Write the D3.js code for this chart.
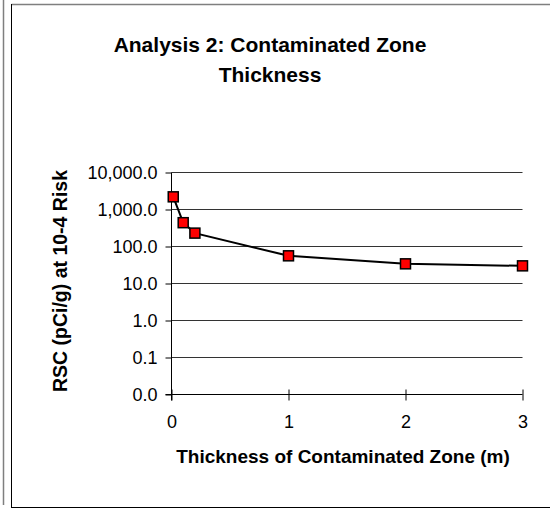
<!DOCTYPE html>
<html>
<head>
<meta charset="utf-8">
<script src="https://cdn.jsdelivr.net/npm/d3@7"></script>
<style>
  html, body { margin: 0; padding: 0; background: #fff; }
  svg { display: block; }
  text { font-family: "Liberation Sans", Arial, sans-serif; fill: #000; }
</style>
</head>
<body>
<svg id="chart" width="550" height="508"></svg>
<script>
// ---- data ----
const thickness = [0.015, 0.1, 0.2, 1, 2, 3];          // m
const rsc = [2200, 440, 230, 56, 34, 30];              // pCi/g
const xTicks = [0, 1, 2, 3];
const yTicks = [0.01, 0.1, 1, 10, 100, 1000, 10000];
const titleLines = ["Analysis 2: Contaminated Zone", "Thickness"];
const xTitle = "Thickness of Contaminated Zone (m)";
const yTitle = "RSC (pCi/g) at 10-4 Risk";

const svg = d3.select("#chart");

// frame
svg.append("line").attr("x1", 3.5).attr("x2", 3.5).attr("y1", 0).attr("y2", 505)
  .attr("stroke", "#7f7f7f").attr("stroke-width", 1.5);
svg.append("line").attr("x1", 11.5).attr("x2", 550).attr("y1", 4.5).attr("y2", 4.5)
  .attr("stroke", "#7f7f7f").attr("stroke-width", 1.5);
svg.append("line").attr("x1", 11.5).attr("x2", 11.5).attr("y1", 4).attr("y2", 508)
  .attr("stroke", "#000").attr("stroke-width", 1);
svg.append("line").attr("x1", 11).attr("x2", 550).attr("y1", 507.5).attr("y2", 507.5)
  .attr("stroke", "#000").attr("stroke-width", 1);

const x = d3.scaleLinear().domain([0, 3]).range([171.5, 522.5]);
const y = d3.scaleLog().domain([0.01, 10000]).range([394.5, 172.5]);
const fmt = d3.format(",.1f");

// gridlines
svg.append("g").selectAll("line").data(yTicks.filter(d => d > 0.01)).join("line")
  .attr("x1", x(0)).attr("x2", x(3))
  .attr("y1", d => y(d)).attr("y2", d => y(d))
  .attr("stroke", "#333").attr("stroke-width", 1.2);

// y axis
const yAxis = d3.axisLeft(y).tickValues(yTicks).tickFormat(fmt).tickSize(6).tickPadding(8);
const gy = svg.append("g").attr("transform", `translate(${x(0)},0)`).call(yAxis);
gy.select(".domain").remove();
gy.append("line").attr("x1", 0).attr("x2", 0).attr("y1", y(10000)).attr("y2", y(0.01) + 6)
  .attr("stroke", "#000");
gy.selectAll(".tick line").attr("stroke", "#000");
gy.selectAll(".tick text").attr("font-size", 18).attr("font-family", "Liberation Sans, Arial, sans-serif").attr("fill", "#000");

// x axis
const xAxis = d3.axisBottom(x).tickValues(xTicks).tickFormat(d3.format("d")).tickSize(6).tickPadding(15);
const gx = svg.append("g").attr("transform", `translate(0,${y(0.01)})`).call(xAxis);
gx.select(".domain").remove();
gx.append("line").attr("x1", x(0) - 6).attr("x2", x(3)).attr("y1", 0).attr("y2", 0).attr("stroke", "#000");
gx.selectAll(".tick line").attr("y1", -5).attr("y2", 6).attr("stroke", "#000");
gx.selectAll(".tick text").attr("font-size", 18).attr("font-family", "Liberation Sans, Arial, sans-serif").attr("fill", "#000");

// series line
const pts = thickness.map((t, i) => [t, rsc[i]]);
svg.append("path").datum(pts)
  .attr("fill", "none").attr("stroke", "#000").attr("stroke-width", 2)
  .attr("d", d3.line().x(d => x(d[0])).y(d => y(d[1])));

// markers
svg.append("g").selectAll("rect").data(pts).join("rect")
  .attr("x", d => x(d[0]) - 5).attr("y", d => y(d[1]) - 5)
  .attr("width", 10).attr("height", 10)
  .attr("fill", "#ff0000").attr("stroke", "#000").attr("stroke-width", 1.5);

// titles
svg.append("text").attr("x", 270).attr("text-anchor", "middle")
  .attr("font-size", 21).attr("font-weight", "bold")
  .selectAll("tspan").data(titleLines).join("tspan")
  .attr("x", 270).attr("y", (d, i) => 52 + i * 30).text(d => d);

svg.append("text").attr("x", 343).attr("y", 463).attr("text-anchor", "middle")
  .attr("font-size", 19).attr("font-weight", "bold").text(xTitle);

svg.append("text").attr("transform", "translate(67,281) rotate(-90)")
  .attr("text-anchor", "middle").attr("font-size", 19.5).attr("font-weight", "bold").text(yTitle);
</script>
</body>
</html>
